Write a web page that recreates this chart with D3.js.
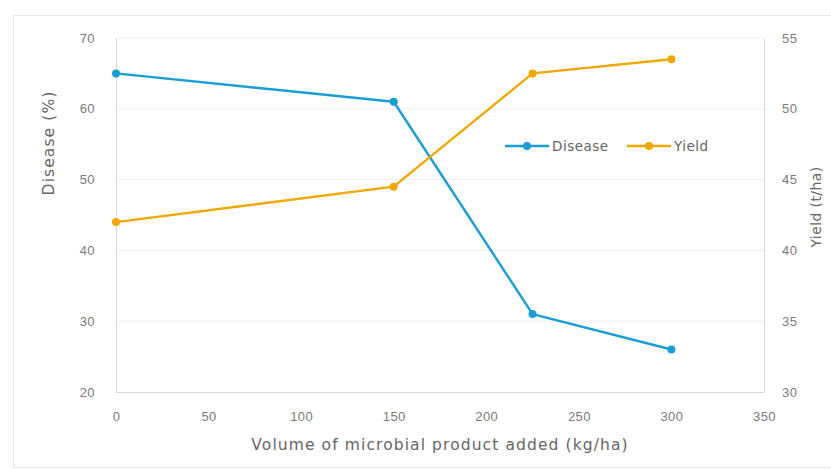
<!DOCTYPE html>
<html>
<head>
<meta charset="utf-8">
<script src="https://cdn.jsdelivr.net/npm/d3@7"></script>
<style>
  html, body { margin: 0; padding: 0; background: #fff; }
  svg { display: block; font-family: "DejaVu Sans", "Noto Sans", sans-serif; }
</style>
</head>
<body>
<svg id="chart" width="831" height="469"></svg>
<script>
// Application rate of the microbial product (kg/ha)
const volumes = [0, 150, 225, 300];
// Disease incidence (%) – left axis
const disease = [65, 61, 31, 26];
// Crop yield (t/ha) – right axis
const yieldVals = [42, 44.5, 52.5, 53.5];

const xTicks = [0, 50, 100, 150, 200, 250, 300, 350];
const leftTicks = [20, 30, 40, 50, 60, 70];
const rightTicks = [30, 35, 40, 45, 50, 55];

const seriesNames = ["Disease", "Yield"];
const colors = { Disease: "#1a9dd4", Yield: "#f0a800" };

const svg = d3.select("#chart");
const W = 831;
const m = { left: 116, right: 764, top: 38, bottom: 392 };

// outer chart frame
svg.append("rect")
  .attr("x", 13.5).attr("y", 15.5)
  .attr("width", W - 13).attr("height", 452)
  .attr("fill", "#fff").attr("stroke", "#e6e6e6");

const x = d3.scaleLinear().domain([0, 350]).range([m.left, m.right]);
const yL = d3.scaleLinear().domain([20, 70]).range([m.bottom, m.top]);
const yR = d3.scaleLinear().domain([30, 55]).range([m.bottom, m.top]);

// faint horizontal gridlines
svg.append("g")
  .selectAll("line")
  .data(leftTicks.slice(1))
  .join("line")
  .attr("x1", m.left).attr("x2", m.right)
  .attr("y1", d => yL(d)).attr("y2", d => yL(d))
  .attr("stroke", "#efefef").attr("stroke-width", 1);

const tickColor = "#7a7a7a";
const styleAxis = g => {
  g.select(".domain").attr("stroke", "#d6d6d6");
  g.selectAll(".tick text").attr("fill", tickColor).attr("font-size", 13)
    .attr("letter-spacing", 0.4);
};

// bottom axis
svg.append("g")
  .attr("transform", `translate(0,${m.bottom})`)
  .call(d3.axisBottom(x).tickValues(xTicks).tickSize(0).tickPadding(20).tickSizeOuter(0))
  .call(styleAxis);

// left axis
svg.append("g")
  .attr("transform", `translate(${m.left},0)`)
  .call(d3.axisLeft(yL).tickValues(leftTicks).tickSize(0).tickPadding(21).tickSizeOuter(0))
  .call(styleAxis);

// right axis
svg.append("g")
  .attr("transform", `translate(${m.right},0)`)
  .call(d3.axisRight(yR).tickValues(rightTicks).tickSize(0).tickPadding(18).tickSizeOuter(0))
  .call(styleAxis);

// axis titles
const titleColor = "#666";
svg.append("text")
  .attr("x", 440).attr("y", 450)
  .attr("text-anchor", "middle")
  .attr("font-size", 15.5).attr("letter-spacing", 1.1).attr("fill", titleColor)
  .text("Volume of microbial product added (kg/ha)");

svg.append("text")
  .attr("transform", "translate(54,143) rotate(-90)")
  .attr("text-anchor", "middle")
  .attr("font-size", 15.5).attr("letter-spacing", 1.1).attr("fill", titleColor)
  .text("Disease (%)");

svg.append("text")
  .attr("transform", "translate(821,207) rotate(-90)")
  .attr("text-anchor", "middle")
  .attr("font-size", 14).attr("letter-spacing", 0.4).attr("fill", titleColor)
  .text("Yield (t/ha)");

// series lines and markers
const series = [
  { name: "Disease", values: disease, y: yL },
  { name: "Yield", values: yieldVals, y: yR }
];

series.forEach(s => {
  const pts = volumes.map((v, i) => [x(v), s.y(s.values[i])]);
  svg.append("path")
    .attr("d", d3.line()(pts))
    .attr("fill", "none")
    .attr("stroke", colors[s.name])
    .attr("stroke-width", 2.4)
    .attr("stroke-linejoin", "round");
  svg.append("g")
    .selectAll("circle")
    .data(pts)
    .join("circle")
    .attr("cx", d => d[0]).attr("cy", d => d[1])
    .attr("r", 4)
    .attr("fill", colors[s.name]);
});

// legend
const legend = svg.append("g").attr("transform", "translate(505,146)");
const legendX = [0, 122];
seriesNames.forEach((name, i) => {
  const g = legend.append("g").attr("transform", `translate(${legendX[i]},0)`);
  g.append("line")
    .attr("x1", 0).attr("x2", 44).attr("y1", 0).attr("y2", 0)
    .attr("stroke", colors[name]).attr("stroke-width", 2.4);
  g.append("circle").attr("cx", 22).attr("cy", 0).attr("r", 4).attr("fill", colors[name]);
  g.append("text")
    .attr("x", 47).attr("y", 5)
    .attr("font-size", 13.5).attr("letter-spacing", 0.5).attr("fill", titleColor)
    .text(name);
});
</script>
</body>
</html>
